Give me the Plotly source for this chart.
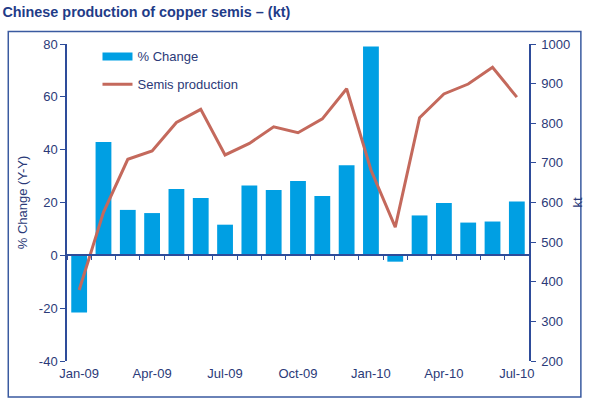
import plotly.graph_objects as go

months = ["Jan-09", "Feb-09", "Mar-09", "Apr-09", "May-09", "Jun-09", "Jul-09", "Aug-09",
          "Sep-09", "Oct-09", "Nov-09", "Dec-09", "Jan-10", "Feb-10", "Mar-10", "Apr-10",
          "May-10", "Jun-10", "Jul-10"]
pct_change = [-21.6, 42.9, 17.2, 16.0, 25.1, 21.7, 11.6, 26.4, 24.7, 28.1, 22.5, 34.1,
              79.1, -2.4, 15.1, 19.8, 12.4, 12.8, 20.4]
semis_kt = [379, 575, 709, 730, 802, 835, 720, 749, 791, 776, 811, 887,
            682, 538, 814, 874, 899, 941, 866]
tick_labels = months[::3]
pct_ticks = [-40, -20, 0, 20, 40, 60, 80]
pct_tick_text = ["-40", "-20", "0", "20", "40", "60", "80"]

AXIS = "#2E4C9A"
TEXT = "#2B3A78"
BAR = "#009FE3"
LINE = "#C4695C"
FONT = "Liberation Sans, Arial, sans-serif"

fig = go.Figure()
fig.add_trace(go.Bar(x=months, y=pct_change, name="% Change", marker_color=BAR,
                     marker_line_width=0, xaxis="x", yaxis="y", showlegend=False))
# legend proxy for the bar series (wide flat swatch as in the original)
fig.add_trace(go.Scatter(x=[None], y=[None], name="% Change", mode="lines",
                         line=dict(color=BAR, width=8), xaxis="x", yaxis="y",
                         legendgroup="a"))
fig.add_trace(go.Scatter(x=months, y=semis_kt, name="Semis production", mode="lines",
                         line=dict(color=LINE, width=3), xaxis="x2", yaxis="y2",
                         legendgroup="b"))

fig.update_layout(
    width=595, height=399,
    margin=dict(l=67, r=56, t=44, b=38),
    paper_bgcolor="white", plot_bgcolor="white",
    font=dict(family=FONT, size=13, color=TEXT),
    bargap=0.35,
    showlegend=True,
    legend=dict(x=0.066, y=1.008, xanchor="left", yanchor="top", bgcolor="rgba(0,0,0,0)",
                font=dict(size=13, color=TEXT), traceorder="grouped", tracegroupgap=8),
    xaxis=dict(type="category", categoryorder="array", categoryarray=months,
               range=[-0.5, 18.5], showline=False, showgrid=False, zeroline=False,
               tickmode="array", tickvals=tick_labels, ticktext=tick_labels, ticks="",
               ticklabelstandoff=3),
    xaxis2=dict(type="category", categoryorder="array", categoryarray=months,
                range=[-0.5, 18.5], overlaying="x", anchor="free", position=40/120,
                side="bottom", showline=True, linecolor=AXIS, linewidth=1.5,
                ticks="outside", tickson="boundaries", ticklen=4, tickcolor=AXIS,
                showticklabels=False, showgrid=False, zeroline=False),
    yaxis=dict(range=[-40, 80], tickmode="array", tickvals=pct_ticks, ticktext=pct_tick_text,
               showline=True, linecolor=AXIS, linewidth=1.5,
               ticks="outside", ticklen=5, tickcolor=AXIS, showgrid=False, zeroline=False,
               title=dict(text="% Change (Y-Y)", font=dict(size=13, color=TEXT), standoff=8)),
    yaxis2=dict(range=[200, 1000], dtick=100, overlaying="y", side="right", anchor="x2",
                showline=True, linecolor=AXIS, linewidth=1.5, ticks="outside", ticklen=5,
                tickcolor=AXIS, showgrid=False, zeroline=False, ticklabelstandoff=3,
                title=dict(text="kt", font=dict(size=13, color=TEXT), standoff=4)),
    title=dict(text="<b>Chinese production of copper semis – (kt)</b>", x=0.004, xanchor="left",
               y=0.97, yanchor="middle", font=dict(family=FONT, size=14.4, color="#1F3C88")),
    shapes=[dict(type="rect", xref="paper", yref="paper",
                 x0=(7-67)/472, x1=(592-67)/472, y0=(361-397)/316.4, y1=(361-32)/316.4,
                 line=dict(color="#3A5AA0", width=1.5), fillcolor="rgba(0,0,0,0)", layer="below")],
)

fig.write_html("out.html", config={"displayModeBar": False},
               post_script="document.body.style.margin='0';")
